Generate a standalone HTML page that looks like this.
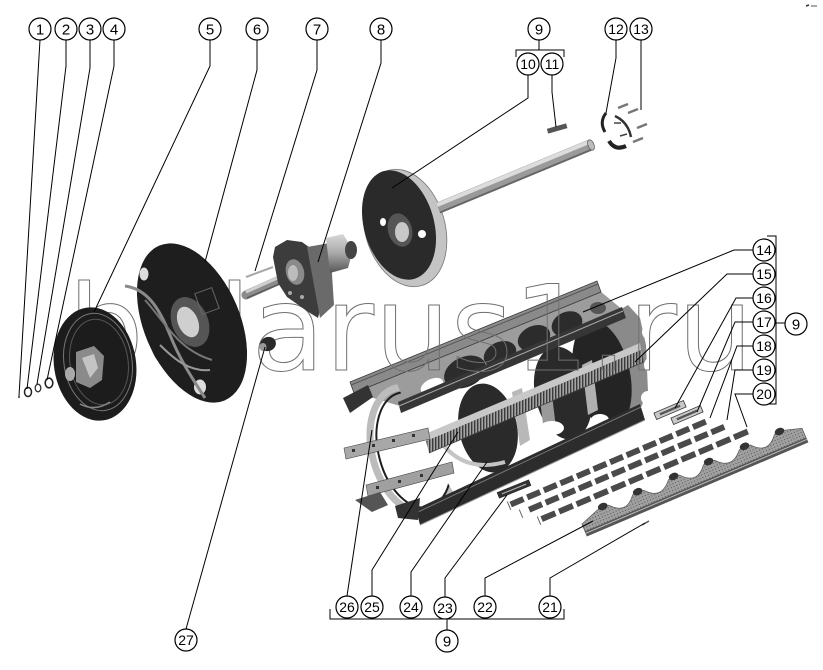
<!DOCTYPE html>
<html><head><meta charset="utf-8">
<style>
html,body{margin:0;padding:0;background:#fff;}
svg{display:block;}
.n{font-family:"Liberation Sans",sans-serif;font-size:15px;fill:#000;text-anchor:middle;}
.n2{font-family:"Liberation Sans",sans-serif;font-size:14px;fill:#000;text-anchor:middle;}
.c{fill:#fff;stroke:#000;stroke-width:1.2;}
.l{fill:none;stroke:#000;stroke-width:1;}
</style></head><body>
<svg width="823" height="670" viewBox="0 0 823 670" xmlns="http://www.w3.org/2000/svg">
<defs>
 <pattern id="hatch" width="3" height="3" patternUnits="userSpaceOnUse">
  <rect width="3" height="3" fill="#a4a4a4"/><rect width="1.4" height="3" fill="#3a3a3a"/>
 </pattern>
 <pattern id="dots" width="3" height="3" patternUnits="userSpaceOnUse">
  <rect width="3" height="3" fill="#a0a0a0"/><rect width="1" height="1" fill="#555"/>
 </pattern>
 <linearGradient id="cyl" x1="0" y1="0" x2="0" y2="1">
  <stop offset="0" stop-color="#d8d8d8"/><stop offset="0.5" stop-color="#a8a8a8"/><stop offset="1" stop-color="#555"/>
 </linearGradient>
 <clipPath id="ringclip"><polygon points="330,370 392,370 415,430 440,470 470,520 470,540 330,540"/></clipPath>
</defs>

<!-- ============ DRUM ============ -->
<polygon points="606,318 628,305 640,318 646,345 648,392 636,418 612,420 598,395" fill="#8a8a8a"/>
<circle cx="650" cy="332" r="8" fill="#fff"/>
<circle cx="652" cy="365" r="8" fill="#fff"/>
<circle cx="648" cy="398" r="7" fill="#fff"/>
<ellipse cx="602" cy="375" rx="28" ry="55" transform="rotate(-12 602 375)" fill="#242424"/>
<ellipse cx="563" cy="393" rx="28" ry="47" transform="rotate(-12 563 393)" fill="#2a2a2a"/>
<ellipse cx="488" cy="428" rx="29" ry="45" transform="rotate(-12 488 428)" fill="#2a2a2a"/>
<polygon points="512,392 522,388 530,440 520,446" fill="#b8b8b8"/>
<polygon points="582,365 592,360 598,410 588,415" fill="#b0b0b0"/>
<polygon points="540,400 552,395 556,428 544,432" fill="#9a9a9a"/>
<ellipse cx="552" cy="428" rx="12" ry="7" fill="#fff"/>
<ellipse cx="600" cy="420" rx="9" ry="6" fill="#fff"/>
<ellipse cx="470" cy="470" rx="10" ry="6" fill="#fff"/>
<ellipse cx="528" cy="452" rx="8" ry="5" fill="#fff"/>

<polygon points="353,392 600,291 623,310 400,406" fill="#9c9c9c"/>
<ellipse cx="465" cy="372" rx="22" ry="15" transform="rotate(-25 465 372)" fill="#2c2c2c"/>
<ellipse cx="500" cy="354" rx="17" ry="12" transform="rotate(-25 500 354)" fill="#2c2c2c"/>
<ellipse cx="534" cy="338" rx="17" ry="12" transform="rotate(-25 534 338)" fill="#2c2c2c"/>
<ellipse cx="567" cy="324" rx="16" ry="12" transform="rotate(-25 567 324)" fill="#2c2c2c"/>
<ellipse cx="432" cy="386" rx="12" ry="7" transform="rotate(-25 432 386)" fill="#fff"/>
<ellipse cx="598" cy="308" rx="8" ry="6" fill="#555"/>

<path d="M438,438 Q462,474 505,462" fill="none" stroke="#c4c4c4" stroke-width="4"/>
<g clip-path="url(#ringclip)">
 <ellipse cx="412" cy="450" rx="40" ry="64" transform="rotate(-15 412 450)" fill="none" stroke="#bcbcbc" stroke-width="7"/>
 <ellipse cx="414" cy="450" rx="35.5" ry="59" transform="rotate(-15 414 450)" fill="none" stroke="#1e1e1e" stroke-width="2"/>
</g>

<polygon points="350,382 597,281 601,292 354,393" fill="#8a8a8a" stroke="#3a3a3a" stroke-width="0.8"/>
<line x1="351" y1="385" x2="598" y2="284" stroke="#555" stroke-width="1"/>
<polygon points="343,398 368,385 373,397 350,413" fill="#333"/>
<polygon points="398,402 622,307 626,318 401,413" fill="#363636"/>
<line x1="399" y1="406" x2="623" y2="311" stroke="#a8a8a8" stroke-width="1"/>
<polygon points="425,434 640,343 641,350 426,441" fill="#c8c8c8"/>
<polygon points="426,441 641,350 644,362 429,453" fill="url(#hatch)"/>
<line x1="429" y1="453" x2="644" y2="362" stroke="#444" stroke-width="0.8"/>
<polygon points="344,448 428,428 430,439 346,459" fill="#a8a8a8" stroke="#444" stroke-width="0.6"/>
<rect x="352" y="449" width="3" height="3" fill="#333"/><rect x="372" y="444" width="3" height="3" fill="#333"/><rect x="392" y="439" width="3" height="3" fill="#333"/><rect x="412" y="434" width="3" height="3" fill="#333"/>
<polygon points="366,485 452,462 454,473 368,496" fill="#a0a0a0" stroke="#444" stroke-width="0.6"/>
<rect x="376" y="486" width="3" height="3" fill="#333"/><rect x="398" y="480" width="3" height="3" fill="#333"/><rect x="420" y="474" width="3" height="3" fill="#333"/>
<polygon points="355,500 380,492 388,505 372,512" fill="#555"/>
<polygon points="416,509 640,404 645,420 420,525" fill="#2c2c2c"/>
<line x1="418" y1="512" x2="641" y2="407" stroke="#777" stroke-width="1"/>
<line x1="420" y1="525" x2="645" y2="420" stroke="#999" stroke-width="1"/>
<polygon points="395,506 420,498 418,520 398,518" fill="#333"/>

<g transform="translate(514,489) rotate(-22)"><rect x="-17" y="-3" width="34" height="6" fill="#333" stroke="#222" stroke-width="0.6"/><line x1="-13" y1="0" x2="13" y2="0" stroke="#bbb" stroke-width="1"/></g>
<g transform="translate(670,410) rotate(-23)"><rect x="-16" y="-3.5" width="32" height="7" fill="#c8c8c8" stroke="#333" stroke-width="0.8"/><rect x="-11" y="-1.2" width="22" height="2.4" fill="#555"/></g>
<g transform="translate(687,415) rotate(-23)"><rect x="-16" y="-3.5" width="32" height="7" fill="#c8c8c8" stroke="#333" stroke-width="0.8"/><rect x="-11" y="-1.2" width="22" height="2.4" fill="#555"/></g>

<g transform="translate(510,508) rotate(-23)" fill="#4a4a4a">
 <line x1="0" y1="-7" x2="0" y2="2" stroke="#666" stroke-width="1"/>
 <rect x="2" y="-6" width="14" height="6"/><rect x="20" y="-6" width="14" height="6"/><rect x="38" y="-6" width="14" height="6"/><rect x="56" y="-6" width="14" height="6"/><rect x="74" y="-6" width="14" height="6"/><rect x="92" y="-6" width="14" height="6"/><rect x="110" y="-6" width="14" height="6"/><rect x="128" y="-6" width="14" height="6"/><rect x="146" y="-6" width="14" height="6"/><rect x="164" y="-6" width="14" height="6"/><rect x="182" y="-6" width="14" height="6"/><rect x="200" y="-6" width="14" height="6"/>
</g>
<g transform="translate(522,516) rotate(-23)" fill="#4a4a4a">
 <line x1="0" y1="-7" x2="0" y2="2" stroke="#666" stroke-width="1"/>
 <rect x="9" y="-6" width="14" height="6"/><rect x="27" y="-6" width="14" height="6"/><rect x="45" y="-6" width="14" height="6"/><rect x="63" y="-6" width="14" height="6"/><rect x="81" y="-6" width="14" height="6"/><rect x="99" y="-6" width="14" height="6"/><rect x="117" y="-6" width="14" height="6"/><rect x="135" y="-6" width="14" height="6"/><rect x="153" y="-6" width="14" height="6"/><rect x="171" y="-6" width="14" height="6"/><rect x="189" y="-6" width="14" height="6"/><rect x="207" y="-6" width="14" height="6"/>
</g>
<g transform="translate(540,523) rotate(-23)" fill="#4a4a4a">
 <line x1="0" y1="-7" x2="0" y2="2" stroke="#666" stroke-width="1"/>
 <rect x="3" y="-6" width="15" height="6"/><rect x="22" y="-6" width="15" height="6"/><rect x="41" y="-6" width="15" height="6"/><rect x="60" y="-6" width="15" height="6"/><rect x="79" y="-6" width="15" height="6"/><rect x="98" y="-6" width="15" height="6"/><rect x="117" y="-6" width="15" height="6"/><rect x="136" y="-6" width="15" height="6"/><rect x="155" y="-6" width="15" height="6"/><rect x="174" y="-6" width="15" height="6"/><rect x="193" y="-6" width="15" height="6"/><rect x="212" y="-6" width="15" height="6"/>
</g>

<g transform="translate(587,536) rotate(-23)">
 <path d="M0,0 L0,-13 L20,-20 L32,-20 Q45,-4 58,-20 L70,-20 Q83,-4 97,-20 L109,-20 Q122,-4 135,-20 L147,-20 Q160,-4 174,-20 L186,-20 Q199,-4 212,-20 L224,-20 L240,-15 L240,0 Z" fill="url(#dots)" stroke="#555" stroke-width="0.7"/>
 <rect x="0" y="-5" width="240" height="5" fill="#555"/>
 <line x1="0" y1="-3" x2="240" y2="-3" stroke="#bbb" stroke-width="1"/>
 <ellipse cx="26" cy="-21" rx="5" ry="3.5" fill="#333"/><ellipse cx="64" cy="-21" rx="5" ry="3.5" fill="#333"/><ellipse cx="103" cy="-21" rx="5" ry="3.5" fill="#333"/><ellipse cx="141" cy="-21" rx="5" ry="3.5" fill="#333"/><ellipse cx="180" cy="-21" rx="5" ry="3.5" fill="#333"/><ellipse cx="218" cy="-21" rx="5" ry="3.5" fill="#333"/>
</g>
<line x1="642" y1="525" x2="649" y2="521" stroke="#555" stroke-width="1.5"/>

<!-- ============ WATERMARK ============ -->
<text x="68" y="370" font-family="DejaVu Sans, sans-serif" font-size="119" fill="none" stroke="#707070" stroke-width="1" textLength="685" lengthAdjust="spacing">belarus1.ru</text>

<!-- ============ LEFT PARTS ============ -->
<circle cx="19" cy="397" r="1" fill="#333"/>
<ellipse cx="28" cy="392" rx="3.5" ry="4.5" fill="none" stroke="#222" stroke-width="1.5"/>
<ellipse cx="38" cy="388" rx="2.8" ry="3.8" fill="none" stroke="#333" stroke-width="1.3"/>
<ellipse cx="49" cy="383" rx="3.8" ry="4.8" fill="none" stroke="#222" stroke-width="1.6"/>

<ellipse cx="95" cy="364" rx="41" ry="57" transform="rotate(-9 95 364)" fill="#1c1c1c"/>
<ellipse cx="98" cy="362" rx="34" ry="49" transform="rotate(-9 98 362)" fill="none" stroke="#777" stroke-width="1"/>
<ellipse cx="99" cy="362" rx="29" ry="43" transform="rotate(-9 99 362)" fill="none" stroke="#555" stroke-width="1"/>
<polygon points="76,352 94,346 104,356 102,380 90,388 76,382" fill="#8a8a8a"/>
<polygon points="82,358 94,354 98,368 90,378" fill="#c4c4c4"/>
<ellipse cx="70" cy="374" rx="5" ry="7" fill="#aaa"/>
<path d="M80,404 Q95,412 110,402" fill="none" stroke="#888" stroke-width="1.5"/>

<ellipse cx="192" cy="323" rx="48" ry="84" transform="rotate(-23 192 323)" fill="#1e1e1e"/>
<ellipse cx="190" cy="322" rx="18" ry="26" transform="rotate(-23 190 322)" fill="#555"/>
<ellipse cx="188" cy="322" rx="10" ry="16" transform="rotate(-23 188 322)" fill="#cfcfcf"/>
<ellipse cx="144" cy="274" rx="4.5" ry="6.5" fill="#ddd"/>
<ellipse cx="200" cy="387" rx="6" ry="7.5" fill="#ddd"/>
<path d="M125,286 C148,289 160,310 170,335 S192,378 205,398" fill="none" stroke="#8a8a8a" stroke-width="3"/>
<path d="M145,300 C165,322 178,350 212,360" fill="none" stroke="#777" stroke-width="2"/>
<path d="M160,345 C175,360 190,372 210,370" fill="none" stroke="#999" stroke-width="2"/>
<rect x="198" y="290" width="18" height="22" fill="none" stroke="#666" stroke-width="1" transform="rotate(-20 207 301)"/>

<ellipse cx="268" cy="344" rx="8" ry="7" transform="rotate(-20 268 344)" fill="#2a2a2a"/>
<ellipse cx="263" cy="347" rx="3.5" ry="4" fill="#999"/>

<line x1="246" y1="295" x2="284" y2="278" stroke="#8c8c8c" stroke-width="9" stroke-linecap="round"/>
<line x1="246" y1="292" x2="284" y2="275" stroke="#d0d0d0" stroke-width="3"/>
<line x1="247" y1="298" x2="284" y2="282" stroke="#5a5a5a" stroke-width="1.5"/>
<line x1="246" y1="277" x2="273" y2="267" stroke="#a8a8a8" stroke-width="2"/>

<polygon points="275,247 287,240 302,242 313,250 320,310 318,318 310,313 287,297 278,283 273,257" fill="#3c3c3c"/>
<polygon points="307,247 330,243 334,305 320,318" fill="#6a6a6a"/>
<polygon points="326,238 343,234 353,250 348,268 330,273" fill="url(#cyl)"/>
<ellipse cx="351" cy="250" rx="6" ry="9" fill="#444"/>
<ellipse cx="295" cy="272" rx="9" ry="13" transform="rotate(-15 295 272)" fill="#8a8a8a"/>
<ellipse cx="293" cy="273" rx="5" ry="8" fill="#bcbcbc"/>
<circle cx="290" cy="293" r="2" fill="#aaa"/><circle cx="302" cy="297" r="2" fill="#aaa"/>

<ellipse cx="405" cy="228" rx="40" ry="60" transform="rotate(-16 405 228)" fill="#c4c4c4" stroke="#777" stroke-width="0.8"/>
<ellipse cx="399" cy="225" rx="35" ry="56" transform="rotate(-16 399 225)" fill="#2a2a2a"/>
<ellipse cx="400" cy="230" rx="12" ry="17" transform="rotate(-16 400 230)" fill="#555"/>
<ellipse cx="402" cy="232" rx="7" ry="10" fill="#c8c8c8"/>
<ellipse cx="383" cy="222" rx="3" ry="4" fill="#fff"/>
<ellipse cx="422" cy="234" rx="4" ry="4" fill="#fff"/>

<line x1="438" y1="208" x2="590" y2="145" stroke="#9a9a9a" stroke-width="11"/>
<line x1="437" y1="205" x2="589" y2="142" stroke="#dcdcdc" stroke-width="4"/>
<line x1="440" y1="212.5" x2="592" y2="149.5" stroke="#666" stroke-width="2"/>
<ellipse cx="591" cy="145" rx="3" ry="5.5" transform="rotate(-22 591 145)" fill="#bbb" stroke="#555" stroke-width="0.7"/>

<rect x="547" y="126" width="20" height="5" transform="rotate(-16 557 128)" fill="#555"/>
<path d="M606,113 Q599,122 605,132" fill="none" stroke="#222" stroke-width="3"/>
<path d="M615,116 Q628,122 631,137" fill="none" stroke="#333" stroke-width="2.5"/>
<path d="M609,141 Q615,151 626,146" fill="none" stroke="#222" stroke-width="4"/>
<line x1="618" y1="108" x2="628" y2="104" stroke="#777" stroke-width="2.5"/>
<line x1="628" y1="113" x2="638" y2="109" stroke="#777" stroke-width="2.5"/>
<line x1="637" y1="128" x2="647" y2="124" stroke="#777" stroke-width="2.5"/>
<line x1="633" y1="142" x2="643" y2="138" stroke="#777" stroke-width="2.5"/>
<line x1="614" y1="123" x2="621" y2="123" stroke="#444" stroke-width="1.5"/>
<line x1="620" y1="136" x2="627" y2="134" stroke="#444" stroke-width="1.5"/>

<line x1="806" y1="6" x2="809" y2="5" stroke="#333" stroke-width="1.5"/>
<line x1="811" y1="6" x2="817" y2="6" stroke="#555" stroke-width="1"/>

<!-- ============ LEADERS ============ -->
<g class="l">
<path d="M40,40 L19,396"/>
<path d="M66,40 L66,66 L27,389"/>
<path d="M90,40 L90,68 L37,384"/>
<path d="M114,40 L114,66 L47,380"/>
<path d="M210,40 L210,66 L94,312"/>
<path d="M257,40 L257,70 L205,262"/>
<path d="M317,40 L317,70 L255,271"/>
<path d="M381,40 L381,63 L318,262"/>
<path d="M528,75 L528,98 L392,188"/>
<path d="M552,75 L552,92 L556,127"/>
<path d="M616,40 L616,58 L606,113"/>
<path d="M641,40 L641,110"/>
<path d="M516,57 L516,50 L564,50 L564,57 M539,40 L539,50"/>
<path d="M753,250 L734,250 L583,312"/>
<path d="M753,274 L727,274 L635,362"/>
<path d="M753,298 L736,298 L675,408"/>
<path d="M753,322 L735,322 L697,412"/>
<path d="M753,346 L737,346 L710,418"/>
<path d="M753,370 L735,370 L727,420"/>
<path d="M753,394 L735,394 L747,427"/>
<path d="M767,236 L776,236 L776,404 L767,404 M776,323 L785,323"/>
<path d="M347,596 L372,430"/>
<path d="M372,596 L372,570 L458,432"/>
<path d="M411,596 L411,572 L487,462"/>
<path d="M445,597 L445,578 L507,495"/>
<path d="M485,596 L485,578 L593,521"/>
<path d="M550,596 L550,578 L645,523"/>
<path d="M186,629 L265,347"/>
<path d="M330,609 L330,619 L564,619 L564,609 M447,619 L447,630"/>
</g>

<!-- ============ CALLOUTS ============ -->
<g>
<circle class="c" cx="40" cy="29" r="11"/><text class="n" x="40" y="34.5">1</text>
<circle class="c" cx="66" cy="29" r="11"/><text class="n" x="66" y="34.5">2</text>
<circle class="c" cx="90" cy="29" r="11"/><text class="n" x="90" y="34.5">3</text>
<circle class="c" cx="114" cy="29" r="11"/><text class="n" x="114" y="34.5">4</text>
<circle class="c" cx="210" cy="29" r="11"/><text class="n" x="210" y="34.5">5</text>
<circle class="c" cx="257" cy="29" r="11"/><text class="n" x="257" y="34.5">6</text>
<circle class="c" cx="317" cy="29" r="11"/><text class="n" x="317" y="34.5">7</text>
<circle class="c" cx="381" cy="29" r="11"/><text class="n" x="381" y="34.5">8</text>
<circle class="c" cx="539" cy="29" r="11"/><text class="n" x="539" y="34.5">9</text>
<circle class="c" cx="528" cy="64" r="11"/><text class="n2" x="528" y="69">10</text>
<circle class="c" cx="552" cy="64" r="11"/><text class="n2" x="552" y="69">11</text>
<circle class="c" cx="616" cy="29" r="11"/><text class="n2" x="616" y="34">12</text>
<circle class="c" cx="641" cy="29" r="11"/><text class="n2" x="641" y="34">13</text>
<circle class="c" cx="764" cy="250" r="11"/><text class="n2" x="764" y="255">14</text>
<circle class="c" cx="764" cy="274" r="11"/><text class="n2" x="764" y="279">15</text>
<circle class="c" cx="764" cy="298" r="11"/><text class="n2" x="764" y="303">16</text>
<circle class="c" cx="764" cy="322" r="11"/><text class="n2" x="764" y="327">17</text>
<circle class="c" cx="764" cy="346" r="11"/><text class="n2" x="764" y="351">18</text>
<circle class="c" cx="764" cy="370" r="11"/><text class="n2" x="764" y="375">19</text>
<circle class="c" cx="764" cy="394" r="11"/><text class="n2" x="764" y="399">20</text>
<circle class="c" cx="796" cy="324" r="11"/><text class="n" x="796" y="329.5">9</text>
<circle class="c" cx="347" cy="607" r="11"/><text class="n2" x="347" y="612">26</text>
<circle class="c" cx="372" cy="607" r="11"/><text class="n2" x="372" y="612">25</text>
<circle class="c" cx="411" cy="607" r="11"/><text class="n2" x="411" y="612">24</text>
<circle class="c" cx="445" cy="608" r="11"/><text class="n2" x="445" y="613">23</text>
<circle class="c" cx="485" cy="607" r="11"/><text class="n2" x="485" y="612">22</text>
<circle class="c" cx="550" cy="607" r="11"/><text class="n2" x="550" y="612">21</text>
<circle class="c" cx="447" cy="641" r="11"/><text class="n" x="447" y="646.5">9</text>
<circle class="c" cx="186" cy="640" r="11"/><text class="n2" x="186" y="645">27</text>
</g>
</svg>
</body></html>
